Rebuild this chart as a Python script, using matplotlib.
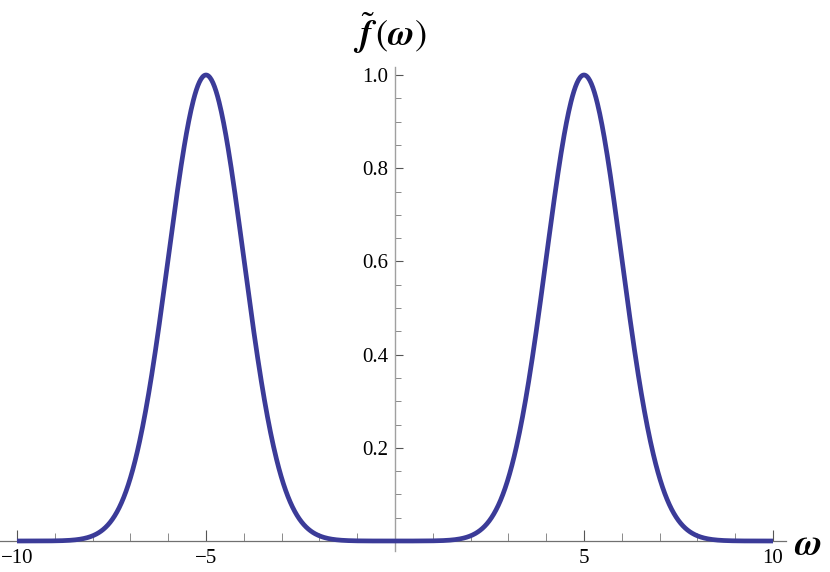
import numpy as np
import matplotlib.pyplot as plt
from matplotlib.ticker import FixedLocator

# Gaussian peaks
peak_centres = [-5.0, 5.0]
peak_heights = [1.0, 1.0]
peak_width = 1.0
x_range = [-10, 10]
x_major = [-10, -5, 5, 10]
x_major_labels = ["\u221210", "\u22125", "5", "10"]
y_major = [0.2, 0.4, 0.6, 0.8, 1.0]
y_major_labels = ["0.2", "0.4", "0.6", "0.8", "1.0"]

plt.rcParams['font.family'] = ['Liberation Serif', 'DejaVu Serif']
plt.rcParams['mathtext.fontset'] = 'stix'

w = np.linspace(x_range[0], x_range[1], 1000)
f = np.zeros_like(w)
for c, h in zip(peak_centres, peak_heights):
    f += h * np.exp(-(w - c) ** 2 / (2 * peak_width ** 2))

fig = plt.figure(figsize=(8.3, 5.72), dpi=100)
ax = fig.add_axes([0, 0, 1, 1])

# map data to pixels: -10 -> 17px, 10 -> 773px, y 0 -> 541px, 1 -> 75px
sx = 37.8
sy = 466.0
ax.set_xlim(-10 - 17 / sx, 10 + (830 - 773) / sx)
ax.set_ylim(-(572 - 541) / sy, 1 + 75 / sy)

ax.plot(w, f, color='#3b3b98', lw=3.4, solid_capstyle='butt', zorder=3)

for s in ['top', 'right']:
    ax.spines[s].set_visible(False)
ax.spines['left'].set_position(('data', 0))
ax.spines['bottom'].set_position(('data', 0))
ax.spines['left'].set_bounds(-10 / sy, 1 + 8 / sy)
ax.spines['bottom'].set_bounds(-10 - 17 / sx, 10 + 13 / sx)
ax.spines['left'].set_color('#a0a0a0')
ax.spines['bottom'].set_color('#707070')
ax.spines['left'].set_linewidth(1.0)
ax.spines['bottom'].set_linewidth(0.9)

ax.xaxis.set_major_locator(FixedLocator(x_major))
ax.set_xticklabels(x_major_labels)
ax.xaxis.set_minor_locator(FixedLocator([v for v in range(-10, 11) if v not in x_major and v != 0]))
ax.yaxis.set_major_locator(FixedLocator(y_major))
ax.set_yticklabels(y_major_labels)
ax.yaxis.set_minor_locator(FixedLocator([v / 100 for v in range(5, 100, 5) if v % 20 != 0]))

ax.tick_params(axis='x', which='major', direction='in', length=8, width=0.8, color='#555555',
               labelsize=15, pad=6)
ax.tick_params(axis='x', which='minor', direction='in', length=6, width=0.6, color='#777777')
ax.tick_params(axis='y', which='major', direction='in', length=6, width=0.8, color='#555555',
               labelsize=15, pad=5)
ax.tick_params(axis='y', which='minor', direction='in', length=4, width=0.6, color='#777777')

fig.text(808 / 830, 1 - 546 / 572, r'$\mathbfit{\omega}$', fontsize=27, ha='center', va='center')
fig.text(390 / 830, 1 - 33 / 572, r'$\tilde{\mathbfit{f}}\,(\mathbfit{\omega})$', fontsize=26,
         ha='center', va='center')

fig.savefig('out.png', dpi=100)
